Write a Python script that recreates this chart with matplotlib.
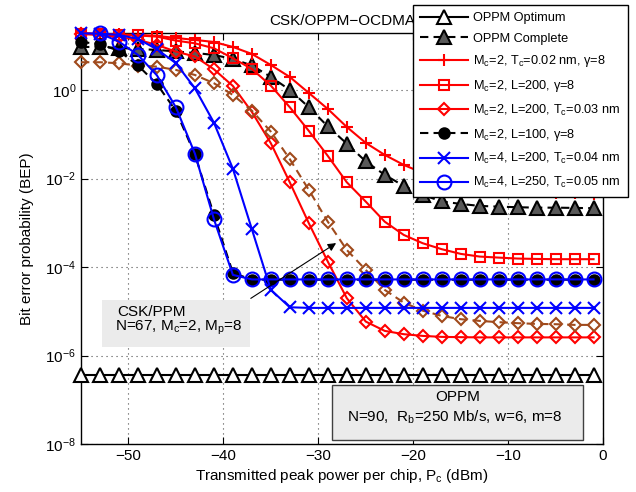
import matplotlib
matplotlib.use('Agg')
import matplotlib.pyplot as plt
from matplotlib.patches import Rectangle

plt.rcParams['font.family'] = ['Liberation Sans', 'DejaVu Sans']
plt.rcParams['mathtext.fontset'] = 'custom'
plt.rcParams['mathtext.rm'] = 'Liberation Sans'
plt.rcParams['mathtext.it'] = 'Liberation Sans:italic'
plt.rcParams['mathtext.default'] = 'regular'

# transmitted peak power per chip (dBm)
pc_dbm = [-55, -53, -51, -49, -47, -45, -43, -41, -39, -37, -35, -33, -31, -29,
          -27, -25, -23, -21, -19, -17, -15, -13, -11, -9, -7, -5, -3, -1]
pc_circ = pc_dbm[1:]

oppm_optimum = [3.7e-7] * 28
oppm_complete = [9.35, 9.35, 8.87, 8.43, 8.0, 7.40, 6.84, 6.17, 5.01, 3.57, 1.97, 1.0,
                 0.407, 0.150, 0.0614, 0.0243, 0.0121, 0.00681, 0.00427, 0.00304,
                 0.00267, 0.00241, 0.00232, 0.00225, 0.00220, 0.00220, 0.00217, 0.00214]
m2_tc002 = [19.4, 18.4, 17.9, 17.5, 16.6, 14.9, 13.5, 12.1, 9.35, 6.5, 3.66, 1.96,
            0.855, 0.372, 0.146, 0.0637, 0.0341, 0.0203, 0.0134, 0.0098, 0.00755,
            0.00646, 0.00582, 0.00525, 0.00499, 0.00473, 0.00461, 0.00449]
m2_l200_g8 = [18.4, 17.9, 17.5, 17.0, 16.0, 13.0, 11.3, 8.73, 5.20, 2.98, 1.25, 0.406,
              0.119, 0.0324, 0.00824, 0.00301, 0.00106, 5.33e-4, 3.46e-4, 2.54e-4,
              1.99e-4, 1.73e-4, 1.64e-4, 1.56e-4, 1.53e-4, 1.51e-4, 1.51e-4, 1.51e-4]
m2_l200_tc003 = [18.4, 17.5, 15.7, 13.5, 10.4, 7.32, 5.70, 2.93, 1.23, 0.319, 0.0626,
                 0.00817, 9.8e-4, 1.33e-4, 1.99e-5, 5.89e-6, 3.63e-6, 3.06e-6, 2.80e-6,
                 2.66e-6, 2.62e-6, 2.59e-6, 2.59e-6, 2.59e-6, 2.59e-6, 2.59e-6, 2.59e-6,
                 2.59e-6]
csk_ppm = [4.22, 4.22, 4.01, 3.54, 3.36, 2.83, 2.18, 1.42, 0.771, 0.341, 0.1145, 0.0273,
           0.00553, 0.00106, 2.44e-4, 8.65e-5, 3.06e-5, 1.58e-5, 1.04e-5, 7.91e-6,
           6.67e-6, 6.11e-6, 5.71e-6, 5.42e-6, 5.22e-6, 5.14e-6, 4.96e-6, 4.96e-6]
m2_l100_g8 = [12.1, 10.9, 7.59, 3.57, 1.35, 0.336, 0.035, 0.00151, 7.4e-5, 5.2e-5,
              5.2e-5, 5.2e-5, 5.2e-5, 5.2e-5, 5.2e-5, 5.2e-5, 5.2e-5, 5.2e-5, 5.2e-5,
              5.2e-5, 5.2e-5, 5.2e-5, 5.2e-5, 5.2e-5, 5.2e-5, 5.2e-5, 5.2e-5, 5.2e-5]
m4_l200_tc004 = [19.0, 18.6, 17.5, 14.2, 8.29, 4.01, 1.09, 0.183, 0.0166, 7.17e-4,
                 3.06e-5, 1.24e-5, 1.2e-5, 1.2e-5, 1.2e-5, 1.2e-5, 1.2e-5, 1.2e-5, 1.2e-5,
                 1.2e-5, 1.2e-5, 1.2e-5, 1.2e-5, 1.2e-5, 1.2e-5, 1.2e-5, 1.2e-5, 1.2e-5]
m4_l250_tc005 = [18.9, 12.3, 6.17, 2.13, 0.403, 0.0365, 0.00121, 6.67e-5, 5.27e-5,
                 5.27e-5, 5.27e-5, 5.27e-5, 5.27e-5, 5.27e-5, 5.27e-5, 5.27e-5, 5.27e-5,
                 5.27e-5, 5.27e-5, 5.27e-5, 5.27e-5, 5.27e-5, 5.27e-5, 5.27e-5, 5.27e-5,
                 5.27e-5, 5.27e-5]

brown = '#a04a1c'
dash = (4, 2.5)

fig = plt.figure(figsize=(6.36, 4.92), dpi=100)
ax = fig.add_axes([0.1274, 0.0970, 0.8208, 0.8354])

common = dict(lw=1.5, mew=1.5, clip_on=False, zorder=3)
ax.plot(pc_dbm, oppm_optimum, '-', color='k', marker='^', ms=10, mfc='white', mec='k',
        label='OPPM Optimum', **common)
ax.plot(pc_dbm, oppm_complete, '--', dashes=dash, color='k', marker='^', ms=10,
        mfc='0.35', mec='k', label='OPPM Complete', **common)
ax.plot(pc_dbm, m2_tc002, '-', color='red', marker='+', ms=9,
        label='M$_c$=2, T$_c$=0.02 nm, γ=8', **common)
ax.plot(pc_dbm, m2_l200_g8, '-', color='red', marker='s', ms=7, mfc='none',
        label='M$_c$=2, L=200, γ=8', **common)
ax.plot(pc_dbm, m2_l200_tc003, '-', color='red', marker='D', ms=6.5, mfc='none',
        label='M$_c$=2, L=200, T$_c$=0.03 nm', **common)
ax.plot(pc_dbm, csk_ppm, '--', dashes=dash, color=brown, marker='D', ms=6.5, mfc='none',
        **common)
ax.plot(pc_dbm, m2_l100_g8, '--', dashes=dash, color='k', marker='o', ms=7.5,
        mfc='k', label='M$_c$=2, L=100, γ=8', **common)
ax.plot(pc_dbm, m4_l200_tc004, '-', color='blue', marker='x', ms=9,
        label='M$_c$=4, L=200, T$_c$=0.04 nm', **common)
ax.plot(pc_circ, m4_l250_tc005, '-', color='blue', marker='o', ms=10, mfc='none',
        label='M$_c$=4, L=250, T$_c$=0.05 nm', **common)

ax.set_yscale('log')
ax.set_xlim(-55, 0)
ax.set_ylim(1e-8, 10 ** 1.28)
ax.set_xticks([-50, -40, -30, -20, -10, 0])
ax.set_yticks([1e-8, 1e-6, 1e-4, 1e-2, 1e0])
ax.minorticks_off()
ax.tick_params(direction='in', top=True, right=True, length=5, width=0.8, labelsize=11)
ax.grid(True, linestyle=(0, (1, 3.5)), color='0.3', lw=0.8)
for s in ax.spines.values():
    s.set_linewidth(1.0)

ax.set_xlabel('Transmitted peak power per chip, P$_c$ (dBm)', fontsize=11, labelpad=3)
ax.set_ylabel('Bit error probability (BEP)', fontsize=11, labelpad=8)
ax.set_title('CSK/OPPM\u2212OCDMA', fontsize=11, pad=6)

# CSK/PPM note box and arrow
ax.add_patch(Rectangle((-52.82, 10 ** -5.808), 15.64, 10 ** -4.740 - 10 ** -5.808,
                       facecolor='0.92', edgecolor='none', zorder=4))
ax.text(-51.17, 10 ** -5.023, 'CSK/PPM', fontsize=11, ha='left', va='center', zorder=5)
ax.text(-51.42, 10 ** -5.372, 'N=67, M$_c$=2, M$_p$=8', fontsize=11, ha='left',
        va='center', zorder=5)
ax.annotate('', xy=(-27.88, 3.77e-4), xytext=(-37.36, 1.82e-5),
            arrowprops=dict(arrowstyle='-|>', color='k', lw=0.8, mutation_scale=12),
            zorder=5)

# OPPM note box
ax.add_patch(Rectangle((-28.6, 10 ** -7.90), 26.5, 10 ** -6.66 - 10 ** -7.90,
                       facecolor='0.92', edgecolor='0.25', lw=1.0, zorder=4))
ax.text(-15.35, 10 ** -6.93, 'OPPM', fontsize=11, ha='center', va='center', zorder=5)
ax.text(-15.6, 10 ** -7.38, 'N=90,  R$_b$=250 Mb/s, w=6, m=8', fontsize=11,
        ha='center', va='center', zorder=5)

leg = fig.legend(loc='upper right', bbox_to_anchor=(628 / 636, 1 - 5 / 492),
                 fontsize=9.2, numpoints=1, handlelength=3.75, handletextpad=0.4,
                 borderpad=0.55, labelspacing=0.68, borderaxespad=0, fancybox=False,
                 framealpha=1, edgecolor='k')
leg.get_frame().set_linewidth(1.0)

fig.savefig('out.png', dpi=100)
